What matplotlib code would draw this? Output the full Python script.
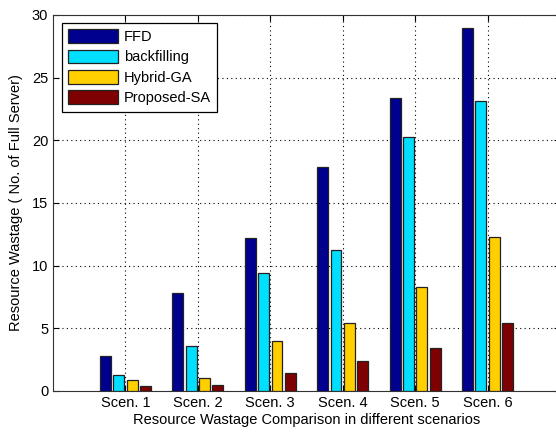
import numpy as np
import matplotlib.pyplot as plt

plt.rcParams['font.family'] = ['Liberation Sans', 'DejaVu Sans']

scenarios = ['Scen. 1', 'Scen. 2', 'Scen. 3', 'Scen. 4', 'Scen. 5', 'Scen. 6']
ffd = [2.8, 7.85, 12.2, 17.85, 23.4, 29.0]
backfilling = [1.3, 3.57, 9.4, 11.25, 20.3, 23.1]
hybrid_ga = [0.86, 1.02, 3.95, 5.45, 8.3, 12.25]
proposed_sa = [0.4, 0.48, 1.46, 2.42, 3.46, 5.45]

series = [ffd, backfilling, hybrid_ga, proposed_sa]
names = ['FFD', 'backfilling', 'Hybrid-GA', 'Proposed-SA']
colors = ['#00008F', '#00DFFF', '#FFCF00', '#7F0000']

fig = plt.figure(figsize=(5.56, 4.32), dpi=100)
ax = fig.add_axes([53 / 556, 41 / 432, 507 / 556, 376 / 432])

x = np.arange(1, len(scenarios) + 1)
w = 0.15
offs = [-0.276, -0.092, 0.092, 0.276]
for vals, name, c, o in zip(series, names, colors, offs):
    ax.bar(x + o, vals, w, color=c, edgecolor='#222222', linewidth=0.9,
           label=name, zorder=3)

ax.set_xlim(0, 7)
ax.set_ylim(0, 30)
ax.set_xticks(x)
ax.set_xticklabels(scenarios)
ax.set_yticks(range(0, 31, 5))
ax.grid(True, linestyle=(0, (1, 3)), color='black', linewidth=0.8, zorder=0)
ax.tick_params(direction='in', top=True, right=True, labelsize=10.5, length=4)
for s in ax.spines.values():
    s.set_color('#333333')

ax.set_xlabel('Resource Wastage Comparison in different scenarios', fontsize=10.5, labelpad=2)
ax.set_ylabel('Resource Wastage ( No. of Full Server)', fontsize=10.5, labelpad=6)

leg = ax.legend(loc='upper left', bbox_to_anchor=(0.017, 0.979), fontsize=10.5,
                handlelength=3.4, handleheight=1.05, handletextpad=0.4,
                labelspacing=0.38, borderpad=0.45, borderaxespad=0,
                fancybox=False, framealpha=1, edgecolor='black')
leg.get_frame().set_linewidth(0.9)

fig.savefig('out.png', dpi=100)
